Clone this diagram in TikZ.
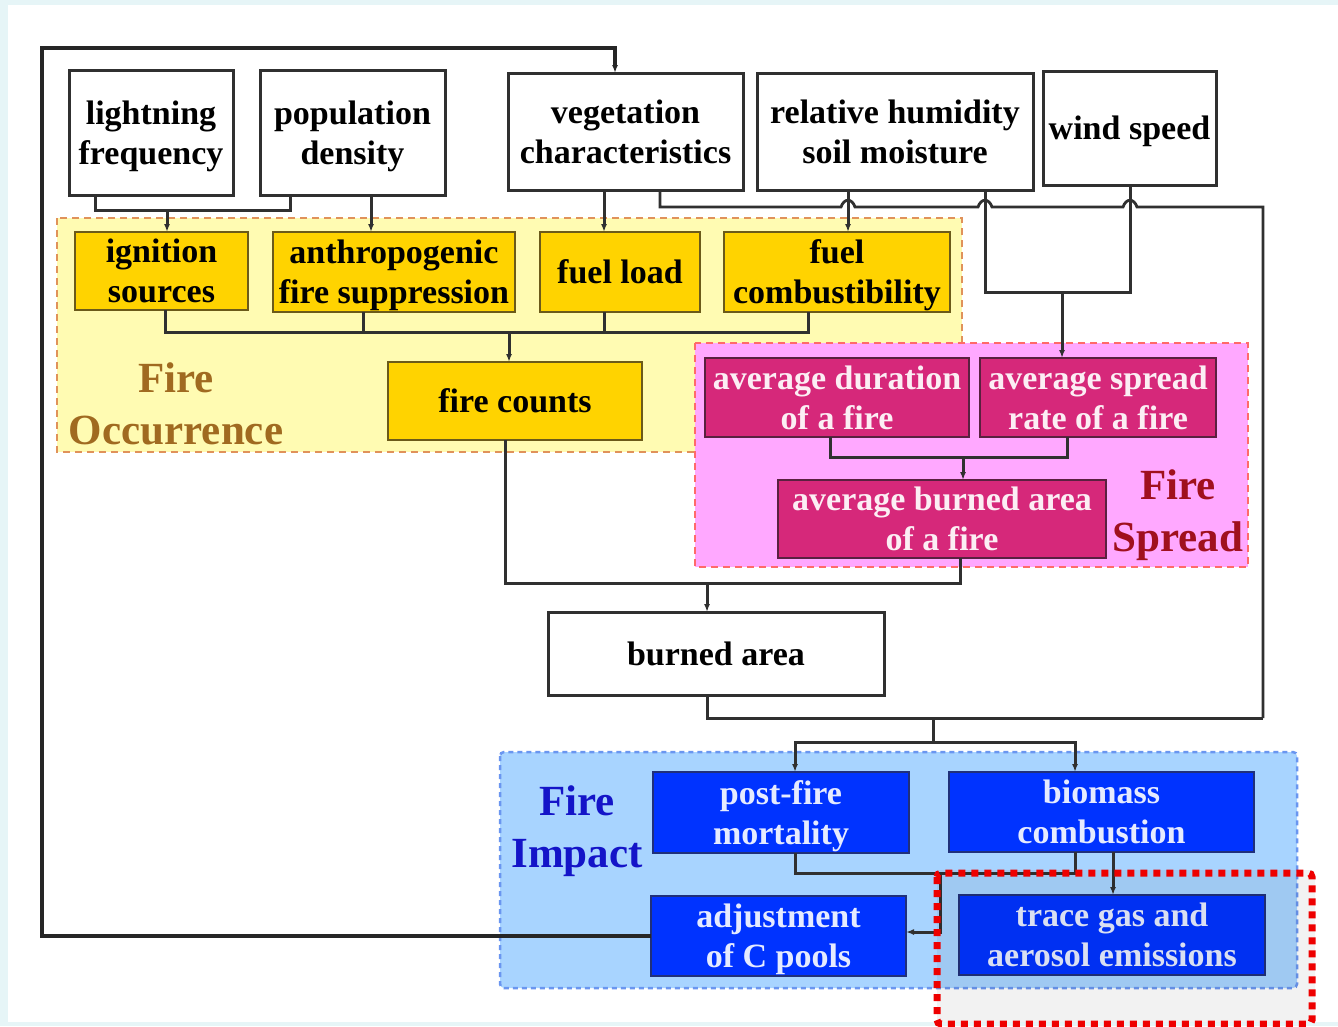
\documentclass[tikz,border=0pt]{standalone}
\usepackage{fontspec}
\setmainfont{Liberation Serif}
\usetikzlibrary{arrows.meta}
\definecolor{bgcyan}{HTML}{E6F5F7}
\definecolor{linec}{HTML}{303030}
\definecolor{occfill}{HTML}{FFFBB2}
\definecolor{occdash}{HTML}{E0925A}
\definecolor{yelbox}{HTML}{FFD300}
\definecolor{yelborder}{HTML}{6B5A1A}
\definecolor{sprfill}{HTML}{FFA8FF}
\definecolor{sprdash}{HTML}{FF6A6A}
\definecolor{magbox}{HTML}{D6287A}
\definecolor{magborder}{HTML}{5A2040}
\definecolor{impfill}{HTML}{A8D4FF}
\definecolor{impdash}{HTML}{6A96F0}
\definecolor{blubox}{HTML}{0033FF}
\definecolor{bluborder}{HTML}{20307A}
\definecolor{occtext}{HTML}{A06A20}
\definecolor{sprtext}{HTML}{A0101E}
\definecolor{imptext}{HTML}{1414C8}
\definecolor{hilite}{HTML}{EE0000}
\tikzset{
  x=1pt, y=-1pt,
  boxbase/.style={rectangle, inner sep=0pt, outer sep=0pt, align=center, text depth=-3pt,
    font=\fontsize{34}{40}\selectfont\bfseries},
  wbox/.style={boxbase, draw=linec, line width=3pt, fill=white, text=black},
  ybox/.style={boxbase, draw=yelborder, line width=2pt, fill=yelbox, text=black},
  mbox/.style={boxbase, draw=magborder, line width=2pt, fill=magbox, text=white!92!magbox},
  bbox/.style={boxbase, draw=bluborder, line width=2pt, fill=blubox, text=white!90!blubox},
  grplabel/.style={inner sep=0pt, align=center, font=\fontsize{43}{52}\selectfont\bfseries},
  conn/.style={draw=linec, line width=3pt},
  arr/.style={conn, -{Latex[length=8pt,width=6pt]}},
}
\begin{document}
\begin{tikzpicture}
\useasboundingbox (0,0) rectangle (1338,1026);
\fill[bgcyan] (0,0) rectangle (1338,1026);
\fill[white] (8,5) rectangle (1338,1022);

% group regions
\draw[occdash, fill=occfill, line width=2pt, dash pattern=on 7pt off 5pt] (57,218) rectangle (962,452);
\draw[sprdash, fill=sprfill, line width=2pt, dash pattern=on 7pt off 5pt] (695,343) rectangle (1248,567);
\draw[impdash, fill=impfill, line width=2.5pt, dash pattern=on 5pt off 4pt, rounded corners=4pt] (500,752) rectangle (1297,988);

% group labels
\node[grplabel, text=occtext] (occlab) at (176,404) {Fire\\Occurrence};
\node[grplabel, text=sprtext] (sprlab) at (1178,515) {Fire\\Spread};
\node[grplabel, text=imptext] (implab) at (577,831) {Fire\\Impact};

% top driver boxes
\node[wbox, minimum width=164, minimum height=125] (light) at (151,132.5) {lightning\\frequency};
\node[wbox, minimum width=185, minimum height=125] (pop) at (352.5,132.5) {population\\density};
\node[wbox, minimum width=235, minimum height=117] (veg) at (625.5,131.5) {vegetation\\characteristics};
\node[wbox, minimum width=276, minimum height=117] (rh) at (895,131.5) {relative humidity\\soil moisture};
\node[wbox, minimum width=173, minimum height=114] (wind) at (1129.5,128) {wind speed};

% fire occurrence boxes
\node[ybox, minimum width=173, minimum height=78] (ign) at (161.5,271) {ignition\\sources};
\node[ybox, minimum width=242, minimum height=80] (anth) at (394,272) {anthropogenic\\fire suppression};
\node[ybox, minimum width=160, minimum height=80] (fuel) at (620,272) {fuel load};
\node[ybox, minimum width=226, minimum height=80] (comb) at (837,272) {fuel\\combustibility};
\node[ybox, minimum width=254, minimum height=78] (counts) at (515,401) {fire counts};

% fire spread boxes
\node[mbox, minimum width=264, minimum height=79] (dur) at (837,397.5) {average duration\\of a fire};
\node[mbox, minimum width=236, minimum height=79] (rate) at (1098,397.5) {average spread\\rate of a fire};
\node[mbox, minimum width=328, minimum height=78] (avgba) at (942,519) {average burned area\\of a fire};

% burned area
\node[wbox, minimum width=336, minimum height=83] (ba) at (716,653.5) {burned area};

% fire impact boxes
\node[bbox, minimum width=256, minimum height=81] (pfm) at (781,812.5) {post-fire\\mortality};
\node[bbox, minimum width=305, minimum height=80] (bio) at (1101.5,812) {biomass\\combustion};
\node[bbox, minimum width=255, minimum height=80] (adj) at (778.5,936) {adjustment\\of C pools};
\node[bbox, minimum width=306, minimum height=80] (trace) at (1112,935) {trace gas and\\aerosol emissions};

% connectors
% feedback: adjustment of C pools -> vegetation characteristics
\draw[arr, line width=3.5pt, draw=black!85] (adj.west) -- (42,0 |- adj.west) -- (42,48) -- (615,48) -- (615,0 |- veg.north);
% lightning + population -> ignition
\draw[conn] (95,0 |- light.south) -- (95,210) -- (290,210) -- (290,0 |- pop.south);
\coordinate (ignj) at (167,210);
\draw[arr] (ignj) -- (167,0 |- ign.north);
% population -> anthropogenic suppression
\draw[arr] (371,0 |- pop.south) -- (371,0 |- anth.north);
% vegetation -> fuel load
\draw[arr] (604,0 |- veg.south) -- (604,0 |- fuel.north);
% relative humidity -> fuel combustibility
\draw[arr] (848,0 |- rh.south) -- (848,0 |- comb.north);
% vegetation -> fire impact (with hops)
\coordinate (impj) at (1263,718);
\draw[conn, line width=2.8pt] (660,0 |- veg.south) -- (660,207) -- (841,207)
  .. controls (844,198) and (852,198) .. (855,207) -- (978,207)
  .. controls (981,198) and (989,198) .. (992,207) -- (1123,207)
  .. controls (1126,198) and (1134,198) .. (1137,207) -- (1263,207) -- (impj);
% rh + wind -> spread rate
\draw[conn] (985,0 |- rh.south) -- (985,292) -- (1130,292) -- (1130,0 |- wind.south);
\coordinate (ratej) at (1062,292);
\draw[arr] (ratej) -- (1062,0 |- rate.north);
% occurrence boxes -> fire counts
\draw[conn] (165,0 |- ign.south) -- (165,332) -- (808,332) -- (808,0 |- comb.south);
\draw[conn] (363,0 |- anth.south) -- (363,332);
\draw[conn] (604,0 |- fuel.south) -- (604,332);
\coordinate (cntj) at (509,332);
\draw[arr] (cntj) -- (509,0 |- counts.north);
% duration + rate -> average burned area
\draw[conn] (830,0 |- dur.south) -- (830,457) -- (1067,457) -- (1067,0 |- rate.south);
\coordinate (abaj) at (963,457);
\draw[arr] (abaj) -- (963,0 |- avgba.north);
% fire counts + average burned area -> burned area
\draw[conn] (505,0 |- counts.south) -- (505,583) -- (960,583) -- (960,0 |- avgba.south);
\coordinate (baj) at (707,583);
\draw[arr] (baj) -- (707,0 |- ba.north);
% burned area -> impacts
\draw[conn] (707,0 |- ba.south) -- (707,718) -- (impj);
\draw[conn] (933,718) -- (933,742);
\coordinate (splj) at (933,742);
\draw[arr] (splj) -- (795,742) -- (795,0 |- pfm.north);
\draw[arr] (splj) -- (1075,742) -- (1075,0 |- bio.north);
% post-fire mortality + biomass combustion -> adjustment of C pools
\draw[conn] (795,0 |- pfm.south) -- (795,873) -- (1075,873) -- (1075,0 |- bio.south);
\coordinate (adjj) at (940,873);
\draw[arr] (adjj) -- (940,932) -- (adj.east |- 0,932);
% biomass combustion -> trace gas
\draw[arr] (1113,0 |- bio.south) -- (1113,0 |- trace.north);

% highlight rectangle
\fill[black, opacity=0.05, rounded corners=4pt] (937,870) rectangle (1315,1022);
\draw[hilite, line width=7pt, dash pattern=on 7pt off 6pt, rounded corners=4pt] (937,873) rectangle (1312,1024);
\end{tikzpicture}
\end{document}
